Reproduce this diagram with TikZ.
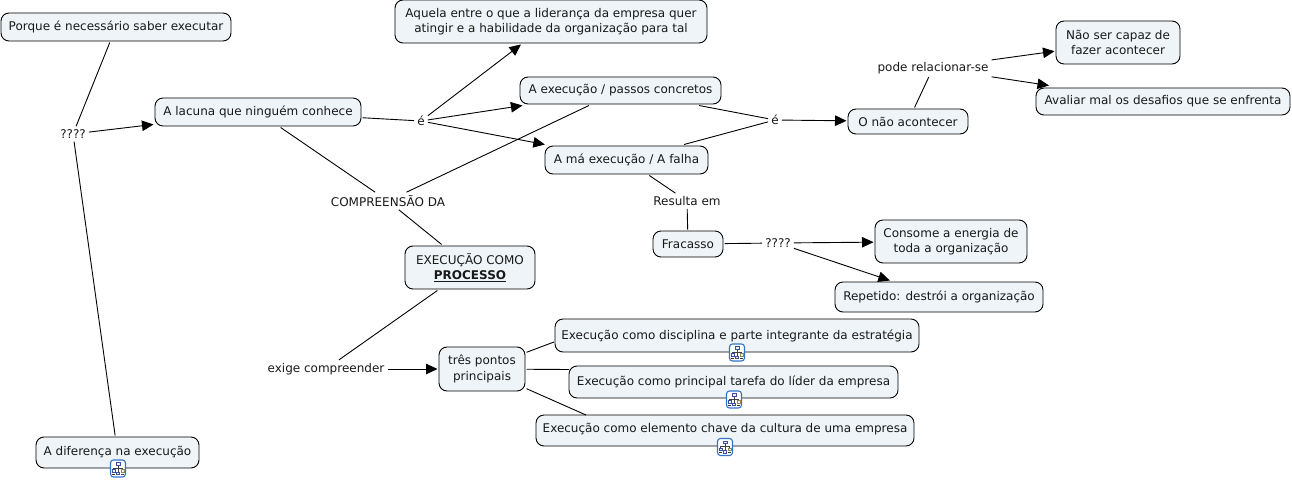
\documentclass[tikz,border=0pt]{standalone}
\usepackage{fontspec}
\setmainfont{DejaVu Sans}
\usetikzlibrary{arrows.meta}
\definecolor{boxfill}{HTML}{EEF4F7}
\definecolor{iconblue}{HTML}{2F74C8}
\definecolor{iconnavy}{HTML}{3A4FA0}
\definecolor{iconolive}{HTML}{8A8A50}
\tikzset{
  x=1pt,y=-1pt,
  box/.style={draw=black,line width=0.9pt,fill=boxfill,rounded corners=8pt,inner sep=0pt,outer sep=1.5pt,align=center,font=\fontsize{12}{15.5}\selectfont,text=black!90},
  link/.style={inner sep=3pt,font=\fontsize{12}{15}\selectfont,text=black!90},
  conn/.style={line width=0.9pt,black},
  arr/.style={conn,-{Triangle[length=11.5pt,width=10.5pt]}},
  pics/mapicon/.style={code={
    \path[draw=iconblue,line width=1.1pt,fill=white,rounded corners=3pt] (-7.5,-8.5) rectangle (7.5,8.5);
    \draw[black!75,line width=0.5pt] (0,-3)--(0,3) (-4.5,1)--(-4.5,-0.5)--(4.5,-0.5)--(4.5,1);
    \draw[iconnavy,line width=0.7pt,fill=boxfill] (-2,-6) rectangle (2,-3.5);
    \draw[iconnavy,line width=0.7pt,fill=boxfill] (-6,1) rectangle (-3,3.5);
    \draw[iconolive,line width=0.7pt,fill=boxfill] (3,1) rectangle (6,3.5);
    \draw[iconnavy,line width=0.7pt,fill=boxfill] (-1.5,3.5) rectangle (1.5,6);
    \draw[black!80,line width=0.7pt] (-6,5.5) -- (-3,5.5) (3,5.5) -- (6,5.5);
  }}
}
\begin{document}
\begin{tikzpicture}
\useasboundingbox (0,0) rectangle (1292,481);
\node[box,minimum width=230pt,minimum height=28pt] (porque) at (116,27) {Porque é necessário saber executar};
\node[box,minimum width=206pt,minimum height=28pt] (lacuna) at (258,112) {A lacuna que ninguém conhece};
\node[box,minimum width=312pt,minimum height=43pt] (aquela) at (551,21.5) {Aquela entre o que a liderança da empresa quer\\atingir e a habilidade da organização para tal};
\node[box,minimum width=201pt,minimum height=27pt] (passos) at (620.5,90.5) {A execução / passos concretos};
\node[box,minimum width=163pt,minimum height=28pt] (falha) at (626.5,160) {A má execução / A falha};
\node[box,minimum width=120pt,minimum height=25pt] (nao) at (908,121.5) {O não acontecer};
\node[box,minimum width=124pt,minimum height=43pt] (capaz) at (1118,42.5) {Não ser capaz de\\fazer acontecer};
\node[box,minimum width=254pt,minimum height=27pt] (avaliar) at (1163,101.5) {Avaliar mal os desafios que se enfrenta};
\node[box,minimum width=70pt,minimum height=26pt] (fracasso) at (688,244) {Fracasso};
\node[box,minimum width=152pt,minimum height=43pt] (consome) at (951,241.5) {Consome a energia de\\toda a organização};
\node[box,minimum width=208pt,minimum height=30pt] (repetido) at (939,297) {Repetido: destrói a organização};
\node[box,minimum width=130pt,minimum height=43pt] (processo) at (470,267.5) {EXECUÇÃO COMO\\\textbf{\underline{PROCESSO}}};
\node[box,minimum width=86pt,minimum height=44pt] (tres) at (482,369) {três pontos\\principais};
\node[box,minimum width=364pt,text height=20pt,text depth=13pt] (disc) at (737,335.5) {Execução como disciplina e parte integrante da estratégia};
\node[box,minimum width=329pt,text height=19pt,text depth=13pt] (lider) at (733.5,382) {Execução como principal tarefa do líder da empresa};
\node[box,minimum width=378pt,text height=17pt,text depth=14pt] (cultura) at (725,430.5) {Execução como elemento chave da cultura de uma empresa};
\node[box,minimum width=163pt,text height=18pt,text depth=13pt] (dif) at (117.5,452.5) {A diferença na execução};
% attachment points on boxes
\coordinate (discend) at (554,342);
\coordinate (liderend) at (569,369.5);
\coordinate (culturaend) at (586,415);
\coordinate (avaliarend) at (1049,85.5);
% linking phrases
\node[link] (q1) at (73,134) {????};
\node[link] (e1) at (421,121) {é};
\node[link] (e2) at (775,120) {é};
\node[link] (pode) at (933,68) {pode relacionar-se};
\node[link] (compr) at (388,201) {COMPREENSÃO DA};
\node[link] (resulta) at (687,201) {Resulta em};
\node[link] (q2) at (778,243) {????};
\node[link] (exige) at (326,369) {exige compreender};
% connectors
\draw[conn] (porque) -- (q1);
\draw[conn] (q1) -- (dif);
\draw[arr] (q1) -- (lacuna);
\draw[conn] (lacuna) -- (e1);
\draw[arr] (e1) -- (aquela);
\draw[arr] (e1) -- (passos);
\draw[arr] (e1) -- (falha);
\draw[conn] (lacuna) -- (compr);
\draw[conn] (passos) -- (compr);
\draw[conn] (compr) -- (processo);
\draw[conn] (processo) -- (exige);
\draw[arr] (exige) -- (tres);
\draw[conn] (passos) -- (e2);
\draw[conn] (falha) -- (e2);
\draw[arr] (e2) -- (nao);
\draw[conn] (nao) -- (pode);
\draw[arr] (pode) -- (capaz);
\draw[arr] (pode) -- (avaliarend);
\draw[conn] (falha) -- (resulta);
\draw[conn] (resulta) -- (fracasso);
\draw[conn] (fracasso) -- (q2);
\draw[arr] (q2) -- (consome);
\draw[arr] (q2) -- (repetido);
\draw[conn] (tres) -- (discend);
\draw[conn] (tres) -- (liderend);
\draw[conn] (tres) -- (culturaend);
% icons
\pic at (737,352.5) {mapicon};
\pic at (734,399.5) {mapicon};
\pic at (725,447) {mapicon};
\pic at (118,468.5) {mapicon};
\end{tikzpicture}
\end{document}
